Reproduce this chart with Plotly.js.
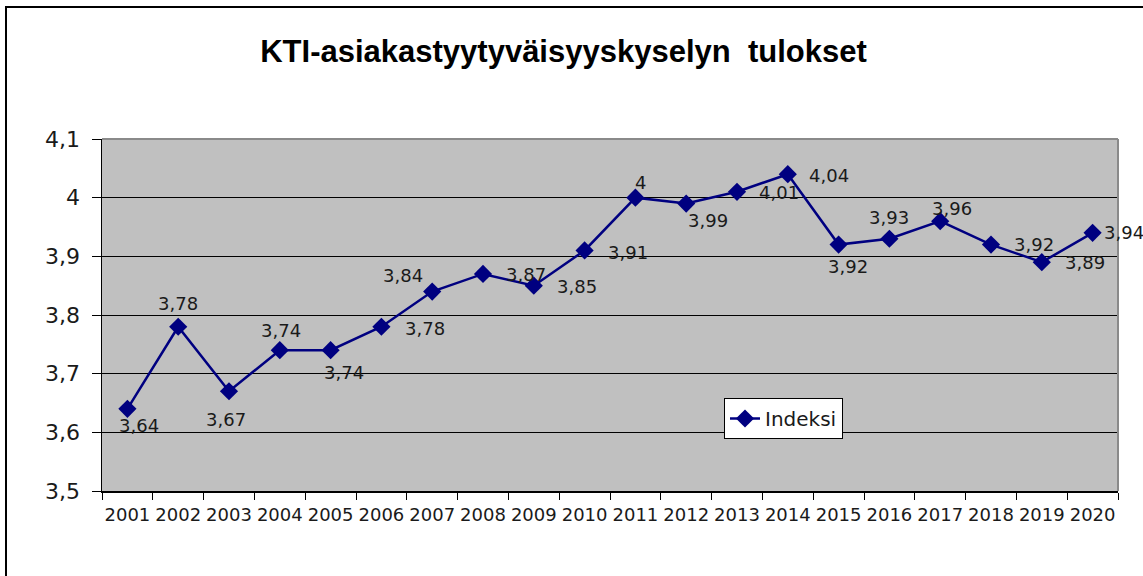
<!DOCTYPE html>
<html>
<head>
<meta charset="utf-8">
<script src="https://cdn.plot.ly/plotly-3.0.1.min.js"></script>
<style>
  html, body { margin: 0; padding: 0; background: #fff; }
  #chart { width: 1143px; height: 576px; }
  #frame { position: absolute; left: 5px; top: 6px; width: 1200px; height: 700px;
           border-left: 2px solid #000; border-top: 2px solid #000; pointer-events: none; }
</style>
</head>
<body>
<div id="chart"></div>
<div id="frame"></div>
<script>
const years = ["2001","2002","2003","2004","2005","2006","2007","2008","2009","2010",
               "2011","2012","2013","2014","2015","2016","2017","2018","2019","2020"];
const indeksi = [3.64, 3.78, 3.67, 3.74, 3.74, 3.78, 3.84, 3.87, 3.85, 3.91,
                 4.00, 3.99, 4.01, 4.04, 3.92, 3.93, 3.96, 3.92, 3.89, 3.94];
const yTicks = [3.5, 3.6, 3.7, 3.8, 3.9, 4.0, 4.1];
const titleText = "KTI-asiakastyytyväisyyskyselyn\u00a0 tulokset";
const seriesName = "Indeksi";

// data-label offsets in pixels from each point (style only)
const labelDx = [12, 0, -3, 1, 13, 44, -29, 43, 43, 43, 5, 22, 42, 41, 9, 0, 12, 43, 43, 31];
const labelDy = [17, -23, 28, -20, 22, 2, -16, 1, 1, 2, -15, 17, 1, 1, 22, -21, -13, 0, 0, 0];

const labelFont = "DejaVu Sans, Verdana, sans-serif";
const navy = "#000080";

const fmt = v => String(+v.toFixed(2)).replace(".", ",");

const trace = {
  type: "scatter",
  mode: "lines+markers",
  x: years,
  y: indeksi,
  name: seriesName,
  line: { color: navy, width: 2.5 },
  marker: { symbol: "diamond", size: 14, color: navy },
  cliponaxis: false,
  hoverinfo: "x+y"
};

// category index i is the position of years[i] on the category axis
const annotations = years.map((yr, i) => ({
  x: i, y: indeksi[i], xref: "x", yref: "y",
  text: fmt(indeksi[i]), showarrow: false,
  xanchor: "center", yanchor: "middle",
  xshift: labelDx[i], yshift: -labelDy[i],
  font: { family: labelFont, size: 18, color: "#1a1a1a" }
}));

const layout = {
  width: 1143, height: 576,
  margin: { l: 102, r: 25, t: 139, b: 85 },
  paper_bgcolor: "#ffffff",
  plot_bgcolor: "#c0c0c0",
  separators: ", ",
  title: {
    text: titleText,
    font: { family: "Liberation Sans, Arial, sans-serif", size: 31, color: "#000", weight: "bold" },
    x: 563.5/1143, xanchor: "center", xref: "container",
    y: 1 - 51/576, yanchor: "middle", yref: "container"
  },
  xaxis: {
    type: "category",
    range: [-0.5, years.length - 0.5],
    tickson: "boundaries",
    tickangle: 0,
    ticks: "outside", ticklen: 7, tickwidth: 1, tickcolor: "#000",
    showline: true, linecolor: "#000", linewidth: 1.5,
    showgrid: false, zeroline: false,
    tickfont: { family: labelFont, size: 18, color: "#1a1a1a" },
    ticklabelstandoff: 7
  },
  yaxis: {
    range: [3.5, 4.1],
    tickvals: yTicks,
    ticks: "outside", ticklen: 9, tickwidth: 1, tickcolor: "#000",
    showline: true, linecolor: "#000", linewidth: 1.5,
    showgrid: true, gridcolor: "#000", gridwidth: 1,
    zeroline: false,
    tickfont: { family: labelFont, size: 22, color: "#1a1a1a" },
    ticklabelstandoff: 7
  },
  annotations: annotations,
  shapes: [
    { type: "line", xref: "paper", yref: "paper", x0: 0, x1: 1, y0: 1, y1: 1,
      line: { color: "#8a8a8a", width: 2 }, layer: "above" },
    { type: "line", xref: "paper", yref: "paper", x0: 1, x1: 1, y0: 0, y1: 1,
      line: { color: "#8a8a8a", width: 2 }, layer: "above" }
  ],
  showlegend: true,
  legend: {
    x: (724-102)/1016, y: (491-398)/352, xanchor: "left", yanchor: "top",
    bgcolor: "#ffffff", bordercolor: "#000", borderwidth: 1,
    font: { family: labelFont, size: 20, color: "#1a1a1a" }
  }
};

Plotly.newPlot("chart", [trace], layout, { displayModeBar: false, staticPlot: true });
</script>
</body>
</html>
